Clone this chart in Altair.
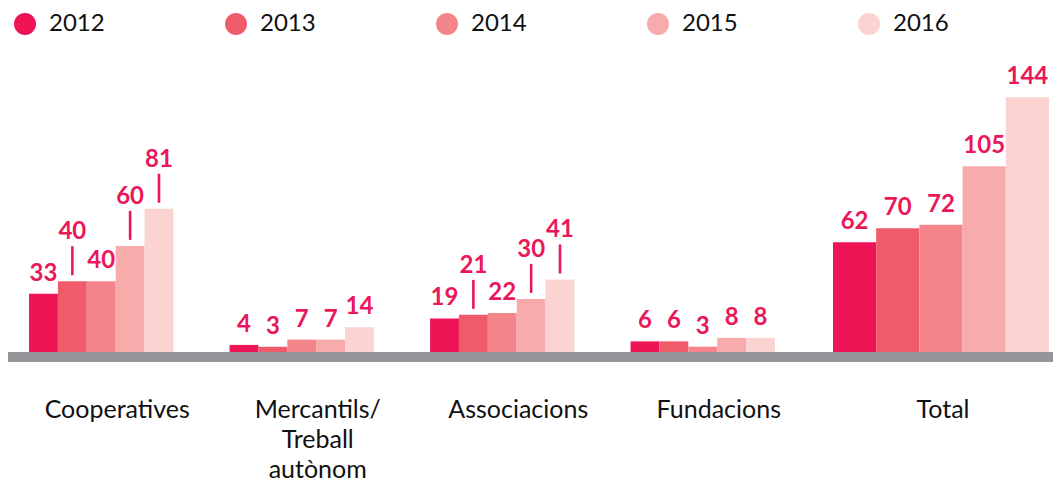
import altair as alt
import pandas as pd

categories = ["Cooperatives", "Mercantils/Treball autònom", "Associacions", "Fundacions", "Total"]
years = ["2012", "2013", "2014", "2015", "2016"]

v2012 = [33, 4, 19, 6, 62]
v2013 = [40, 3, 21, 6, 70]
v2014 = [40, 7, 22, 3, 72]
v2015 = [60, 7, 30, 8, 105]
v2016 = [81, 14, 41, 8, 144]

# labels that sit higher, joined to their bar by a short leader line
leader_cooperatives = [False, True, False, True, True]
leader_mercantils = [False, False, False, False, False]
leader_associacions = [False, True, False, True, True]
leader_fundacions = [False, False, False, False, False]
leader_total = [False, False, False, False, False]

label_lines = {"Mercantils/Treball autònom": ["Mercantils/", "Treball", "autònom"]}

values = [v2012, v2013, v2014, v2015, v2016]
leaders = [leader_cooperatives, leader_mercantils, leader_associacions, leader_fundacions, leader_total]

rows = []
for ci, c in enumerate(categories):
    for yi, yr in enumerate(years):
        rows.append({"category": c, "year": yr, "value": values[yi][ci], "leader": leaders[ci][yi]})
df = pd.DataFrame(rows)

colors = ["#ED1556", "#F05B6C", "#F3858A", "#F8ABAB", "#FBD3D1"]
label_color = "#E8185A"
grey = "#959599"
FONT = "Lato"
H = 283

expr_parts = []
for k, v in label_lines.items():
    arr = "[" + ", ".join("'" + s + "'" for s in v) + "]"
    expr_parts.append(f"datum.label == '{k}' ? {arr} : ")
label_expr = "".join(expr_parts) + "datum.label"


def panel(data, width, x_scale, label_offset):
    base = alt.Chart(data).encode(
        x=alt.X(
            "category:N",
            sort=categories,
            scale=x_scale,
            axis=alt.Axis(
                title=None, domain=False, ticks=False, tickSize=0, labelAngle=0,
                labelFont=FONT, labelFontSize=25, labelColor="#111111",
                labelBaseline="alphabetic", labelPadding=65, labelOffset=label_offset,
                labelLineHeight=30, labelExpr=label_expr, labelLimit=400,
            ),
        ),
        xOffset=alt.XOffset("year:N", sort=years, scale=alt.Scale(paddingInner=0, paddingOuter=0)),
        y=alt.Y("value:Q", scale=alt.Scale(domain=[0, 160]), axis=None),
    )
    bars = base.mark_bar().encode(
        color=alt.Color(
            "year:N",
            sort=years,
            scale=alt.Scale(domain=years, range=colors),
            legend=alt.Legend(
                title=None, orient="none", legendX=5, legendY=-57, direction="horizontal",
                symbolType="circle", symbolSize=484, symbolStrokeWidth=0, symbolOpacity=1,
                labelFont=FONT, labelFontSize=24, labelColor="#111111", labelOffset=12,
                columnPadding=119, padding=0,
            ),
        )
    )
    normal = base.transform_filter("!datum.leader").mark_text(
        font=FONT, fontSize=24, fontWeight="bold", color=label_color,
        baseline="alphabetic", dy=-13,
    ).encode(text="value:Q")
    raised = base.transform_filter("datum.leader").mark_text(
        font=FONT, fontSize=24, fontWeight="bold", color=label_color,
        baseline="alphabetic", dy=-42,
    ).encode(text="value:Q")
    lines = base.transform_filter("datum.leader").mark_rule(
        color=label_color, strokeWidth=2.6, yOffset=-6, y2Offset=-35,
    ).encode(y2="value:Q")
    baseline = alt.Chart(pd.DataFrame({"z": [0]})).mark_rect(
        color=grey, yOffset=0, y2Offset=10
    ).encode(x=alt.value(0), x2=alt.value(width), y=alt.datum(0), y2=alt.datum(0))
    return alt.layer(bars, lines, normal, raised, baseline).properties(width=width, height=H)


main = df[df["category"] != "Total"]
total = df[df["category"] == "Total"]

p1 = panel(main, 788, alt.Scale(paddingInner=0.28, paddingOuter=0.105), 16)
p2 = panel(total, 257, alt.Scale(paddingInner=0, paddingOuter=0.0949, align=0.902), 2)

chart = (
    alt.hconcat(p1, p2, spacing=0)
    .resolve_scale(x="independent", xOffset="independent")
    .properties(padding={"left": 0, "top": 4, "right": 0, "bottom": 0})
    .configure_view(stroke=None)
)

chart.save("out.html", embed_options={"renderer": "svg", "actions": False})
